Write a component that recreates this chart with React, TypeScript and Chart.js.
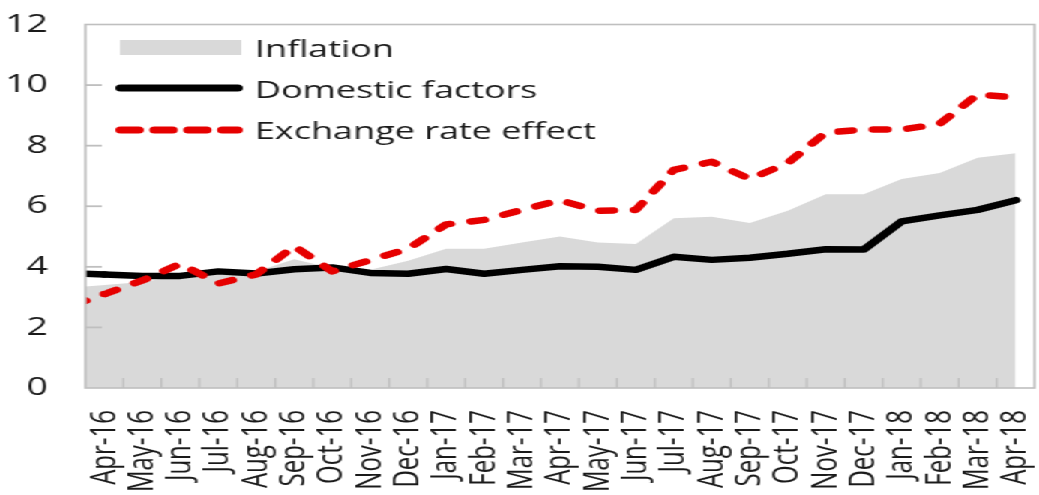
import React, { useEffect, useRef } from 'react';
import { Chart, registerables } from 'chart.js';

Chart.register(...registerables);

// ---- data ----
const months = [
  'Apr-16', 'May-16', 'Jun-16', 'Jul-16', 'Aug-16', 'Sep-16', 'Oct-16', 'Nov-16', 'Dec-16',
  'Jan-17', 'Feb-17', 'Mar-17', 'Apr-17', 'May-17', 'Jun-17', 'Jul-17', 'Aug-17', 'Sep-17',
  'Oct-17', 'Nov-17', 'Dec-17', 'Jan-18', 'Feb-18', 'Mar-18', 'Apr-18',
];
const inflation = [
  3.4, 3.5, 3.7, 3.8, 3.85, 4.25, 3.95, 3.9, 4.2,
  4.6, 4.6, 4.8, 5.0, 4.8, 4.75, 5.6, 5.65, 5.45,
  5.85, 6.4, 6.4, 6.9, 7.1, 7.6, 7.75,
];
const domesticFactors = [
  3.75, 3.7, 3.7, 3.85, 3.78, 3.92, 3.98, 3.8, 3.77,
  3.93, 3.77, 3.9, 4.02, 4.0, 3.9, 4.33, 4.23, 4.3,
  4.43, 4.58, 4.57, 5.5, 5.7, 5.88, 6.2,
];
const exchangeRateEffect = [
  3.1, 3.55, 4.1, 3.45, 3.75, 4.68, 3.85, 4.22, 4.6,
  5.4, 5.55, 5.88, 6.2, 5.85, 5.88, 7.2, 7.47, 6.9,
  7.43, 8.43, 8.53, 8.53, 8.72, 9.69, 9.59,
];
const seriesNames = ['Inflation', 'Domestic factors', 'Exchange rate effect'];
const yMin = 0;
const yMax = 12;
const yStep = 2;

// ---- style ----
const W = 693;
const H = 495;
const STRETCH = 1039 / W;
const FONT = '"Open Sans", "Noto Sans", sans-serif';
const TEXT = '#1a1a1a';
const GREY_FILL = '#d9d9d9';
const FRAME = '#bfbfbf';
const RED = '#e60000';
const LINE_W = 6.5;
const DASH = [9, 14];

const framePlugin = {
  id: 'frame',
  afterDatasetsDraw(chart: any) {
    const { ctx, chartArea: a, scales } = chart;
    const xs = scales.x;
    const ys = scales.y;
    const ds = chart.data.datasets;

    // continue each series to the left edge of the plot (extrapolating first segment)
    const ext = (data: number[]) => {
      const x0 = xs.getPixelForValue(0);
      const x1 = xs.getPixelForValue(1);
      const y0 = ys.getPixelForValue(data[0]);
      const y1 = ys.getPixelForValue(data[1]);
      const yl = y0 - ((y1 - y0) * (x0 - a.left)) / (x1 - x0);
      return { x0, y0, yl };
    };
    ctx.save();
    ctx.beginPath();
    ctx.rect(a.left, a.top, a.right - a.left, a.bottom - a.top);
    ctx.clip();
    {
      const e = ext(ds[0].data);
      ctx.beginPath();
      ctx.moveTo(a.left, a.bottom);
      ctx.lineTo(a.left, e.yl);
      ctx.lineTo(e.x0 + 0.5, e.y0);
      ctx.lineTo(e.x0 + 0.5, a.bottom);
      ctx.closePath();
      ctx.fillStyle = GREY_FILL;
      ctx.fill();
    }
    {
      const e = ext(ds[1].data);
      ctx.beginPath();
      ctx.moveTo(a.left - 4, e.yl);
      ctx.lineTo(e.x0, e.y0);
      ctx.strokeStyle = '#000';
      ctx.lineWidth = LINE_W;
      ctx.lineCap = 'round';
      ctx.stroke();
    }
    {
      const e = ext(ds[2].data);
      const L = Math.hypot(e.x0 - a.left, e.y0 - e.yl);
      const P = DASH[0] + DASH[1];
      ctx.beginPath();
      ctx.moveTo(a.left, e.yl);
      ctx.lineTo(e.x0, e.y0);
      ctx.setLineDash(DASH);
      ctx.lineDashOffset = (P - (L % P)) % P;
      ctx.strokeStyle = RED;
      ctx.lineWidth = LINE_W;
      ctx.lineCap = 'round';
      ctx.stroke();
      ctx.setLineDash([]);
    }
    ctx.restore();

    // frame and inward ticks
    ctx.save();
    ctx.strokeStyle = FRAME;
    ctx.lineWidth = 1.6;
    ctx.strokeRect(a.left, a.top, a.right - a.left, a.bottom - a.top);
    ctx.lineWidth = 1.8;
    for (let v = yMin + yStep; v < yMax; v += yStep) {
      const py = ys.getPixelForValue(v);
      ctx.beginPath();
      ctx.moveTo(a.left, py);
      ctx.lineTo(a.left + 11, py);
      ctx.stroke();
    }
    ctx.lineWidth = 1.3;
    for (let i = 1; i < months.length; i++) {
      const px = (xs.getPixelForValue(i - 1) + xs.getPixelForValue(i)) / 2;
      ctx.beginPath();
      ctx.moveTo(px, a.bottom);
      ctx.lineTo(px, a.bottom - 10);
      ctx.stroke();
    }
    ctx.restore();

    // legend
    ctx.save();
    ctx.fillStyle = GREY_FILL;
    ctx.fillRect(80, 40, 81, 15);
    ctx.lineCap = 'round';
    ctx.lineWidth = 7;
    ctx.strokeStyle = '#000';
    ctx.beginPath();
    ctx.moveTo(80.5, 88);
    ctx.lineTo(158.5, 88);
    ctx.stroke();
    ctx.strokeStyle = RED;
    ctx.setLineDash([12, 10.6]);
    ctx.beginPath();
    ctx.moveTo(80.5, 130);
    ctx.lineTo(158.5, 130);
    ctx.stroke();
    ctx.setLineDash([]);
    ctx.fillStyle = TEXT;
    ctx.font = `24px ${FONT}`;
    ctx.textBaseline = 'alphabetic';
    ctx.textAlign = 'left';
    ctx.fillText(seriesNames[0], 170, 57);
    ctx.fillText(seriesNames[1], 170, 98);
    ctx.fillText(seriesNames[2], 170, 139);
    ctx.restore();
  },
};

export default function App() {
  const ref = useRef<HTMLCanvasElement | null>(null);

  useEffect(() => {
    if (!ref.current) return;
    const chart = new Chart(ref.current, {
      type: 'line',
      data: {
        labels: months,
        datasets: [
          {
            label: seriesNames[0],
            data: inflation,
            fill: 'origin',
            backgroundColor: GREY_FILL,
            borderColor: 'transparent',
            borderWidth: 0,
            pointRadius: 0,
            tension: 0,
            order: 3,
          },
          {
            label: seriesNames[1],
            data: domesticFactors,
            fill: false,
            borderColor: '#000',
            borderWidth: LINE_W,
            borderCapStyle: 'round',
            borderJoinStyle: 'round',
            pointRadius: 0,
            tension: 0,
            order: 2,
          },
          {
            label: seriesNames[2],
            data: exchangeRateEffect,
            fill: false,
            borderColor: RED,
            borderWidth: LINE_W,
            borderDash: DASH,
            borderCapStyle: 'round',
            borderJoinStyle: 'round',
            pointRadius: 0,
            tension: 0,
            order: 1,
          },
        ],
      },
      options: {
        animation: false,
        responsive: false,
        events: [],
        layout: { padding: { top: 24.5, right: 3, left: 0, bottom: 0 } },
        plugins: { legend: { display: false }, tooltip: { enabled: false } },
        scales: {
          x: {
            type: 'category',
            offset: true,
            grid: { display: false, drawTicks: false },
            border: { display: false },
            ticks: {
              autoSkip: false,
              maxRotation: 90,
              minRotation: 90,
              padding: 22,
              color: TEXT,
              font: { family: FONT, size: 24 },
            },
            afterFit: (s: any) => {
              s.height = 107;
              s.paddingLeft = 0;
              s.paddingRight = 0;
            },
          },
          y: {
            min: yMin,
            max: yMax,
            grid: { display: false, drawTicks: false },
            border: { display: false },
            ticks: {
              stepSize: yStep,
              padding: 25,
              color: TEXT,
              font: { family: FONT, size: 25 },
            },
            afterFit: (s: any) => {
              s.width = 57;
              s.paddingTop = 0;
              s.paddingBottom = 0;
            },
          },
        },
      },
      plugins: [framePlugin],
    });
    return () => chart.destroy();
  }, []);

  return (
    <div
      style={{
        position: 'fixed',
        left: 0,
        top: 0,
        width: W,
        height: H,
        transform: `scaleX(${STRETCH})`,
        transformOrigin: '0 0',
        background: '#fff',
      }}
    >
      <canvas ref={ref} width={W} height={H} style={{ display: 'block' }} />
    </div>
  );
}
